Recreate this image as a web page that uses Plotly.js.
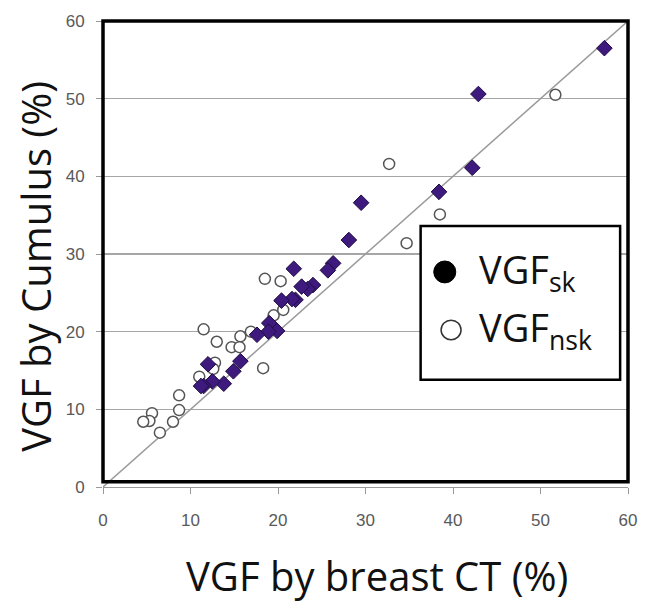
<!DOCTYPE html>
<html>
<head>
<meta charset="utf-8">
<script src="https://cdn.plot.ly/plotly-3.0.1.min.js"></script>
<style>html,body{margin:0;padding:0;background:#fff;}#chart{width:649px;height:610px;}</style>
</head>
<body>
<div id="chart"></div>
<script>
// VGF_sk (filled diamonds): breast CT vs Cumulus (%)
const skCT      = [57.3, 42.9, 42.2, 38.4, 29.5, 28.1, 26.3, 25.7, 21.8, 24.0, 23.4, 22.7, 22.0, 21.6, 20.4, 19.0, 19.9, 18.9, 17.6, 15.7, 14.9, 13.8, 12.5, 12.0, 11.5, 11.2];
const skCumulus = [56.5, 50.6, 41.1, 38.0, 36.6, 31.8, 28.8, 27.9, 28.1, 26.0, 25.5, 25.8, 24.1, 24.2, 24.0, 21.1, 20.1, 20.0, 19.6, 16.2, 14.9, 13.3, 13.6, 15.8, 13.0, 13.0];
// VGF_nsk (open circles)
const nskCT      = [51.7, 32.7, 38.5, 34.7, 18.5, 20.3, 19.5, 20.6, 16.9, 15.7, 14.7, 15.6, 13.0, 11.5, 18.3, 12.8, 12.6, 11.0, 8.7, 8.7, 8.0, 6.5, 5.6, 5.3, 4.6];
const nskCumulus = [50.5, 41.6, 35.1, 31.4, 26.8, 26.5, 22.1, 22.8, 20.0, 19.4, 18.0, 18.0, 18.7, 20.3, 15.3, 16.0, 15.2, 14.2, 11.8, 9.9, 8.4, 7.0, 9.5, 8.5, 8.4];
// identity line
const lineX = [0, 60];
const lineY = [0, 60];
const tickVals = [0, 10, 20, 30, 40, 50, 60];
const xTitle = 'VGF by breast CT (%)';
const yTitle = 'VGF by Cumulus (%)';
const legendLabels = ['VGF<sub>sk</sub>', 'VGF<sub>nsk</sub>'];

const traces = [
  {x: lineX, y: lineY, mode: 'lines', line: {color: '#9a9a9a', width: 1.5}, showlegend: false, hoverinfo: 'skip'},
  {x: nskCT, y: nskCumulus, mode: 'markers', name: 'VGF nsk', showlegend: false,
   marker: {symbol: 'circle', size: 11, color: '#ffffff', line: {color: '#555555', width: 1.5}}},
  {x: skCT, y: skCumulus, mode: 'markers', name: 'VGF sk', showlegend: false,
   marker: {symbol: 'diamond', size: 12, color: '#3f1a7e', line: {color: '#1e0c40', width: 1}}}
];

const tickFont = {family: 'Liberation Sans, Arial, sans-serif', size: 17, color: '#595959'};
const titleFont = {family: 'Open Sans, sans-serif', size: 40, color: '#111111'};
const legendFont = {family: 'Open Sans, sans-serif', size: 38, color: '#111111'};

const layout = {
  width: 649, height: 610,
  margin: {l: 103, r: 21, t: 21, b: 123},
  paper_bgcolor: '#ffffff', plot_bgcolor: '#ffffff',
  showlegend: false,
  xaxis: {
    range: [0, 60], tickvals: tickVals, ticks: 'outside', ticklen: 6, tickcolor: '#999999', tickwidth: 1,
    showline: true, linecolor: '#999999', linewidth: 1, showgrid: false, zeroline: false,
    tickfont: tickFont, ticklabelstandoff: 12
  },
  yaxis: {
    range: [0, 60], tickvals: tickVals, ticks: 'outside', ticklen: 6, tickcolor: '#999999', tickwidth: 1,
    showline: false, showgrid: true, gridcolor: '#a6a6a6', gridwidth: 1.5, zeroline: false,
    tickfont: tickFont, ticklabelstandoff: 8
  },
  shapes: [
    {type: 'rect', xref: 'paper', yref: 'paper', x0: 0, x1: 1, y0: 0.011, y1: 1, line: {color: '#000000', width: 3.5}, layer: 'above'},
    {type: 'rect', xref: 'paper', yref: 'paper', x0: 0.605, x1: 0.985, y0: 0.23, y1: 0.56, fillcolor: '#ffffff', line: {color: '#000000', width: 2.5}, layer: 'above'},
    {type: 'circle', xref: 'paper', yref: 'paper', x0: 0.630, x1: 0.672, y0: 0.438, y1: 0.485, fillcolor: '#000000', line: {color: '#000000', width: 1}, layer: 'above'},
    {type: 'circle', xref: 'paper', yref: 'paper', x0: 0.644, x1: 0.682, y0: 0.316, y1: 0.358, fillcolor: '#ffffff', line: {color: '#333333', width: 1.5}, layer: 'above'}
  ],
  annotations: [
    {xref: 'paper', yref: 'paper', x: 0.522, y: -0.189, xanchor: 'center', yanchor: 'middle', showarrow: false, text: xTitle, font: titleFont},
    {xref: 'paper', yref: 'paper', x: -0.13, y: 0.474, xanchor: 'center', yanchor: 'middle', textangle: -90, showarrow: false, text: yTitle, font: titleFont},
    {xref: 'paper', yref: 'paper', x: 0.712, y: 0.463, xanchor: 'left', yanchor: 'middle', showarrow: false, text: legendLabels[0], font: legendFont},
    {xref: 'paper', yref: 'paper', x: 0.712, y: 0.337, xanchor: 'left', yanchor: 'middle', showarrow: false, text: legendLabels[1], font: legendFont}
  ]
};

Plotly.newPlot('chart', traces, layout, {displayModeBar: false, staticPlot: true});
</script>
</body>
</html>
